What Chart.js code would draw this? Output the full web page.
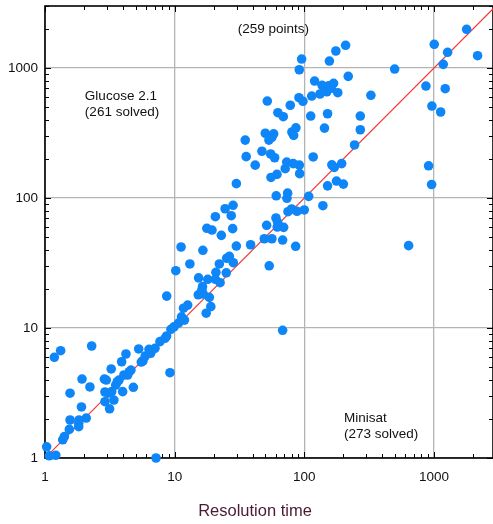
<!DOCTYPE html>
<html>
<head>
<meta charset="utf-8">
<title>Minisat vs Glucose</title>
<script src="https://cdn.jsdelivr.net/npm/chart.js@4.4.1/dist/chart.umd.min.js"></script>
<style>
  body { margin: 0; background: #fff; }
  canvas { display: block; }
</style>
</head>
<body>
<canvas id="timeChart" width="493" height="524"></canvas>
<script>
// Resolution times (seconds) per instance
// x = Minisat, y = Glucose 2.1
const minisatTimes = [
  1.03, 1.08, 1.21, 1.18, 1.32, 2.29, 1.37, 1.41, 1.54, 1.56, 1.56, 1.82, 1.82, 1.83, 1.91, 2.08,
  1.93, 2.22, 2.87, 2.97, 2.9, 2.9, 3.15, 3.06, 3.27, 3.4, 3.24, 3.51, 3.61, 3.72, 3.97, 3.9,
  4.21, 4.06, 4.34, 4.47, 4.6, 4.8, 5.28, 5.53, 5.7, 5.93, 6.34, 6.53, 7.05, 7.7, 8.42, 8.67,
  9.2, 7.18,
  60.7, 73.4, 74.3, 24.5, 28.2, 20.6, 27.3, 17.7, 19.4, 28, 22.9, 74.8, 79.8, 60.4, 62.3, 51.2,
  61.8, 69.2, 49.1, 56.2, 68, 38.5, 29.9, 11.2, 16.5, 26.4, 25.2, 28.3, 22.1, 13.1, 53.6, 10.2,
  20.8, 25, 15.3, 18, 20.6, 22.4, 16.4, 16.2, 15.2, 16.6, 18.5, 8.68, 12.6, 11.7, 19, 17.5,
  11.3, 11.9, 10.7, 9.88, 9.36, 68,
  208, 175, 156, 95.3, 91.4, 218, 120, 137, 154, 168, 149, 132, 161, 181, 114, 326,
  51.8, 90.9, 97.5, 77.9, 62.5, 68.8, 112, 151, 270, 143, 270, 86.1, 80.2, 82.7, 35, 50,
  58, 53.3, 56.2, 244, 35.6, 47.1, 55, 59, 41.8, 117, 73.1, 82.1, 91.4, 71.2, 163, 170,
  194, 92, 61.5, 55.3, 29.9, 151, 177, 200, 108,
  85.7, 139, 99.8, 87.7, 637,
  1784, 1004, 1273, 2168, 1178, 497, 866, 1220, 963, 1125, 908, 958
];
const glucoseTimes = [
  1.22, 1.04, 1.05, 5.95, 6.69, 7.27, 1.38, 1.46, 1.66, 1.96, 3.15, 1.74, 1.85, 1.96, 2.47, 2.03,
  4.05, 3.52, 4.05, 3.98, 3.22, 2.71, 2.39, 3.15, 3.24, 2.79, 4.84, 3.64, 3.86, 3.98, 3.24, 5.5,
  6.31, 4.35, 4.35, 4.61, 4.75, 3.5, 6.9, 5.47, 5.6, 6.09, 6.86, 6.39, 6.98, 7.85, 8.33, 8.68,
  4.53, 1.0,
  104, 99.5, 109, 82.7, 87.9, 71.8, 73.1, 58.5, 56.7, 58.1, 51.6, 78.5, 82.3, 70.2, 65, 61.7,
  59.8, 59.5, 48.6, 48.6, 47.5, 43.7, 42.7, 42, 39.6, 35.6, 34.4, 31.8, 31.1, 31.1, 30.1, 27.6,
  26.8, 26.6, 24.3, 23.7, 23.7, 22.3, 20.8, 19.6, 18, 18.3, 17.2, 17.6, 15, 14.2, 14.6, 13,
  12.2, 11.5, 10.9, 10.2, 9.77, 9.6,
  1496, 1352, 1132, 1172, 970, 863, 794, 736, 731, 762, 657, 631, 698, 646, 609, 617,
  557, 591, 555, 517, 453, 422, 427, 445, 427, 345, 335, 347, 322, 303, 279, 315,
  312, 279, 293, 256, 208, 229, 218, 204, 179, 207, 189, 184, 179, 168, 180, 172,
  184, 154, 152, 144, 129, 124, 135, 128, 103,
  42.5, 87.3, 80.9, 79, 43,
  1985, 1522, 1321, 1244, 1067, 982, 727, 693, 510, 459, 177, 127
];

// y = x reference line
const diagonal = [1, 3000];

// Axis range and labelled ticks
const xMax = 2850;
const yMax = 3000;
const tickLabels = [1, 10, 100, 1000];

// Text notes, anchored in data coordinates
const notes = [
  { lines: ['(259 points)'], x: 57.8, y: 1995, align: 'center' },
  { lines: ['Glucose 2.1', '(261 solved)'], x: 2.03, y: 601, align: 'left' },
  { lines: ['Minisat', '(273 solved)'], x: 202, y: 2.02, align: 'left' }
];

const FONT = '"Liberation Sans", Arial, Helvetica, sans-serif';

const isLabelled = (v) => tickLabels.some(t => Math.abs(t - v) < 1e-6 * t);

// no auto padding on the scales, the plot box is fixed
const noPadding = (scale) => {
  scale.paddingLeft = 0;
  scale.paddingRight = 0;
  scale.paddingTop = 0;
  scale.paddingBottom = 0;
};

// Frame + small tick marks inside the plot on all four sides
const frameTicks = {
  id: 'frameTicks',
  beforeDatasetsDraw: (chart) => {
    const { ctx, chartArea: a, scales } = chart;
    ctx.save();
    ctx.strokeStyle = '#000';
    ctx.lineWidth = 1;
    for (let d = 0; d < 4; d++) {
      for (let m = 1; m < 10; m++) {
        const v = m * Math.pow(10, d);
        const len = m === 1 ? 6 : 4;
        if (v <= xMax) {
          const px = Math.round(scales.x.getPixelForValue(v)) + 0.5;
          ctx.beginPath();
          ctx.moveTo(px, a.bottom); ctx.lineTo(px, a.bottom - len);
          ctx.moveTo(px, a.top); ctx.lineTo(px, a.top + len);
          ctx.stroke();
        }
        if (v <= yMax) {
          const py = Math.round(scales.y.getPixelForValue(v)) + 0.5;
          ctx.beginPath();
          ctx.moveTo(a.left, py); ctx.lineTo(a.left + len, py);
          ctx.moveTo(a.right, py); ctx.lineTo(a.right - len, py);
          ctx.stroke();
        }
      }
    }
    ctx.lineWidth = 1.6;
    ctx.strokeRect(a.left, a.top, a.right - a.left, a.bottom - a.top);
    ctx.restore();
  },
  afterDraw: (chart) => {
    const { ctx, scales } = chart;
    ctx.save();
    ctx.font = '13.5px ' + FONT;
    ctx.fillStyle = '#111';
    ctx.textBaseline = 'middle';
    notes.forEach(n => {
      ctx.textAlign = n.align;
      const px = scales.x.getPixelForValue(n.x);
      const py = scales.y.getPixelForValue(n.y);
      n.lines.forEach((line, i) => ctx.fillText(line, px, py + i * 15.6));
    });
    // axis title
    ctx.font = '16.5px ' + FONT;
    ctx.fillStyle = '#4a1a33';
    ctx.textAlign = 'center';
    ctx.fillText('Resolution time', 255, 511);
    ctx.restore();
  }
};

const gridColor = (c) => (c.tick && isLabelled(c.tick.value) ? '#b4b4b4' : 'rgba(0,0,0,0)');

const timeCtx = document.getElementById('timeChart').getContext('2d');
new Chart(timeCtx, {
  type: 'scatter',
  data: {
    datasets: [
      {
        label: 'Instances',
        data: minisatTimes.map((x, i) => ({ x: x, y: glucoseTimes[i] })),
        backgroundColor: '#0f86f7',
        borderWidth: 0,
        pointRadius: 4.8,
        pointHoverRadius: 4.8,
        clip: false
      },
      {
        label: 'y = x',
        data: diagonal.map(v => ({ x: v, y: v })),
        showLine: true,
        borderColor: '#f53535',
        borderWidth: 1.2,
        pointRadius: 0
      }
    ]
  },
  options: {
    responsive: false,
    animation: false,
    devicePixelRatio: 1,
    layout: { autoPadding: false, padding: { top: 6, right: 0, left: 0, bottom: 0 } },
    plugins: {
      legend: { display: false },
      tooltip: { enabled: false }
    },
    scales: {
      x: {
        type: 'logarithmic',
        min: 1,
        max: xMax,
        afterFit: (scale) => { scale.height = 66; noPadding(scale); },
        border: { display: false },
        grid: { color: gridColor, lineWidth: 1.3, drawTicks: false },
        ticks: {
          autoSkip: false,
          maxRotation: 0,
          padding: 11,
          color: '#111',
          font: { family: FONT, size: 13.5 },
          callback: (v) => (isLabelled(v) ? String(Math.round(v)) : '')
        }
      },
      y: {
        type: 'logarithmic',
        min: 1,
        max: yMax,
        afterFit: (scale) => { scale.width = 45; noPadding(scale); },
        border: { display: false },
        grid: { color: gridColor, lineWidth: 1.3, drawTicks: false },
        ticks: {
          autoSkip: false,
          padding: 7,
          color: '#111',
          font: { family: FONT, size: 13.5 },
          callback: (v) => (isLabelled(v) ? String(Math.round(v)) : '')
        }
      }
    }
  },
  plugins: [frameTicks]
});
</script>
</body>
</html>
